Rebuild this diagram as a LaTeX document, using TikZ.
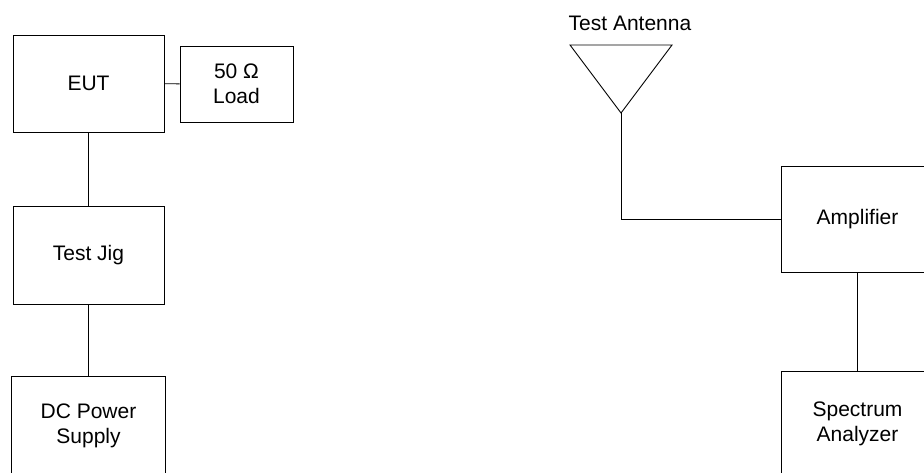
\documentclass[tikz,border=0pt]{standalone}
\usepackage{fontspec}
\setmainfont{Liberation Sans}
\begin{document}
\begin{tikzpicture}[x=1pt, y=-1pt,
  unit/.style={draw, line width=0.9pt, align=center, inner sep=0pt, font=\fontsize{21}{25}\selectfont},
  link/.style={line width=0.9pt}]
\useasboundingbox (0,0) rectangle (924,472);
\clip (0,0) rectangle (924,472);
% left set-up
\node[unit, minimum width=151pt, minimum height=97pt] (eut) at (88.5,83.5) {EUT};
\node[unit, minimum width=113pt, minimum height=76pt] (load) at (236.5,84) {50 Ω\\Load};
\node[unit, minimum width=151pt, minimum height=98pt] (jig) at (88.5,255) {Test Jig};
\node[unit, minimum width=154pt, minimum height=100pt] (dc) at (88.5,426) {DC Power\\Supply};
\draw[link](eut)--(load);
\draw[link](eut)--(jig);
\draw[link](jig)--(dc);
% right set-up
\coordinate (ant) at (621,113);
\draw[link](570,45)--(672,45)--(ant)--cycle;
\node[font=\fontsize{21}{25}\selectfont, inner sep=0pt] (antlabel) at (630,23) {Test Antenna};
\node[unit, minimum width=152pt, minimum height=106pt] (amp) at (857.5,219.5) {Amplifier};
\node[unit, minimum width=152pt, minimum height=106pt] (spec) at (857.5,424) {Spectrum\\Analyzer};
\draw[link](ant)|-(amp.west);
\draw[link](amp)--(spec);
\end{tikzpicture}
\end{document}
